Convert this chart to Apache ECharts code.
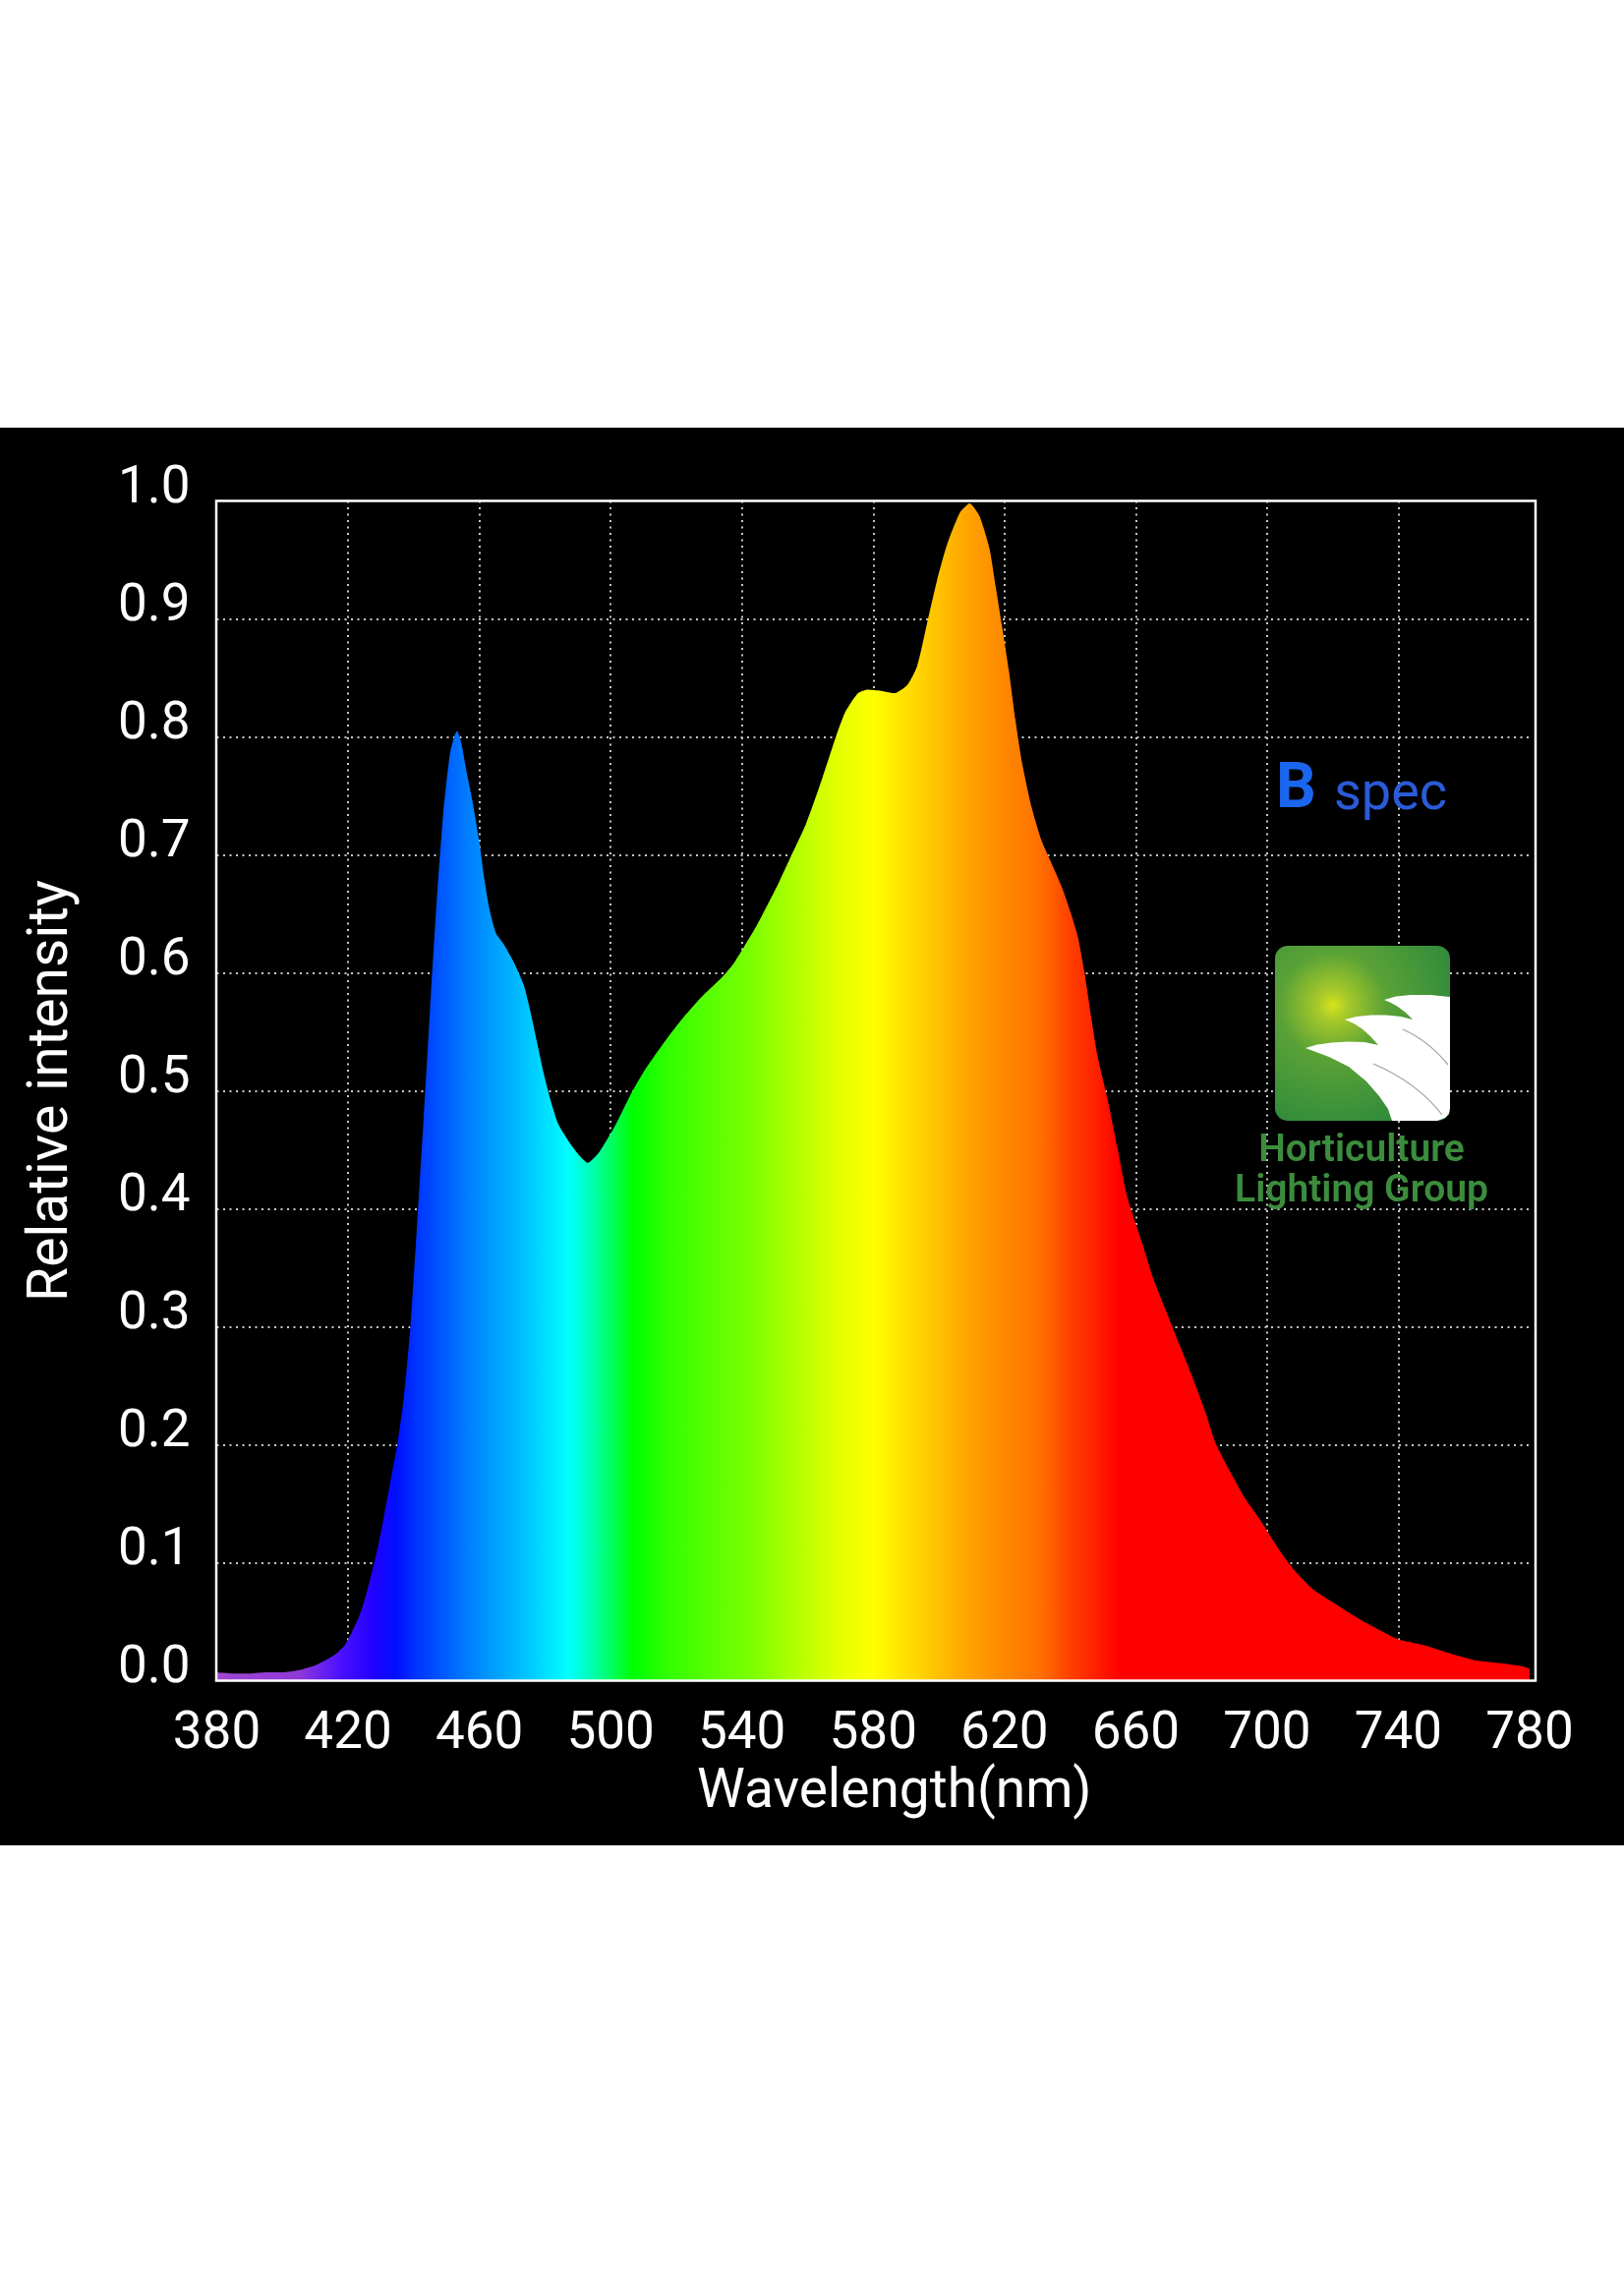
<!DOCTYPE html>
<html>
<head>
<meta charset="utf-8">
<script src="https://cdn.jsdelivr.net/npm/echarts@6/dist/echarts.min.js"></script>
<style>
html,body{margin:0;padding:0;background:#fff;}
#bg{position:absolute;left:0;top:435px;width:1652px;height:1442px;background:#000;}
#chart{position:absolute;left:0;top:0;width:1652px;height:2313px;}
</style>
</head>
<body>
<div id="bg"></div>
<div id="chart"></div>
<script>
// ---- data ----
const wavelengths = [380,385,390,395,400,405,410,
  413,416,419,421,423,425,427,429,431,433,435,437,439,
  441,443,445,447,449,451,452.3,453.2,454.5,456,458,460,
  461.5,463,465,467.5,470.5,473.5,475.5,477.5,479.5,481.5,484,487.5,490.5,493,496.5,
  501.5,506.5,510.5,515.5,521.5,527.5,533.5,537.5,541.5,544.5,547.5,551,554.5,559.5,564.5,568.5,
  571.5,575.4,578.4,582.4,586.4,590.4,593.4,596.4,599.4,602.4,606.4,609.4,612.4,615.4,617.4,619.3,
  621.3,623.3,625.3,628.3,631.3,634.3,637.3,640.3,642.4,644.4,646.4,648.4,651.4,654.4,657.4,660.3,
  662.3,665.3,669.3,673.3,677.3,681.3,684.2,688.2,693.2,698.2,703.2,708.2,714.2,720.2,728.2,736.2,
  740,748,756,764,772,778,780];
const intensities = [0.007,0.006,0.006,0.007,0.007,0.009,0.013,
  0.017,0.022,0.030,0.040,0.052,0.068,0.089,0.112,0.140,0.170,0.200,0.240,0.30,
  0.385,0.475,0.57,0.66,0.735,0.785,0.80,0.805,0.795,0.772,0.744,0.711,
  0.680,0.655,0.634,0.624,0.609,0.590,0.568,0.542,0.516,0.494,0.472,0.456,0.445,0.439,0.448,
  0.471,0.499,0.518,0.538,0.560,0.579,0.595,0.608,0.626,0.640,0.656,0.675,0.696,0.726,0.765,0.799,
  0.821,0.837,0.840,0.839,0.837,0.844,0.860,0.896,0.932,0.962,0.990,0.998,0.987,0.960,0.926,0.893,
  0.857,0.815,0.779,0.740,0.712,0.693,0.674,0.650,0.630,0.600,0.563,0.529,0.493,0.452,0.410,0.385,
  0.368,0.341,0.313,0.285,0.257,0.227,0.202,0.180,0.155,0.135,0.113,0.094,0.077,0.066,0.052,0.040,
  0.035,0.030,0.023,0.017,0.0145,0.012,0.010];
const xTickValues = [380,420,460,500,540,580,620,660,700,740,780];
const yTickLabels = ['0.0','0.1','0.2','0.3','0.4','0.5','0.6','0.7','0.8','0.9','1.0'];
// wavelength -> displayed colour (for the fill gradient)
const spectrumWl = [380,405,418,428,435,440,447,457,467,477,487,493,499,507,517,530,542,556,568,580,595,610,620,631,640,648,655,780];
const spectrumCol = ['#a048d0','#9038d8','#4a10ff','#2000ff','#0010ff','#0030ff','#0050ff','#0080ff','#00a8ff','#00d0ff','#00ffff','#00ffc0','#00ff70','#00ff00','#30ff00','#58ff00','#78ff00','#b0ff00','#e0ff00','#ffff00','#ffd000','#ffa000','#ff8800','#ff7000','#ff4000','#ff2000','#ff0000','#ff0000'];

const xMin = xTickValues[0], xMax = xTickValues[xTickValues.length-1];
const xStep = xTickValues[1]-xTickValues[0];
const seriesData = wavelengths.map((w,i)=>[w,intensities[i]]);
const stops = spectrumWl.map((w,i)=>({offset:(w-xMin)/(xMax-xMin), color:spectrumCol[i]}));

const chart = echarts.init(document.getElementById('chart'), null, {renderer:'canvas'});
const gridLine = {color:'#c8c8c8', width:2, type:[2,4.5]};
const FONT = 'Roboto';

// logo leaf outline (decoration)
const leafPts = [[1408,1017],[1420,1013.5],[1435,1012],[1455,1012],[1475,1014],
  [1475,1127],[1474,1133],[1470,1137],[1462,1140],[1416,1140],
  [1412,1128],[1403,1115],[1390,1100],[1372,1085],[1352,1075],[1328,1066],
  [1340,1062.5],[1355,1060.5],[1372,1059.5],[1388,1060],[1402,1063],
  [1394,1054],[1385,1046],[1377,1041],[1368,1037],
  [1380,1034],[1395,1032.5],[1410,1032.5],[1425,1034],[1437,1037],
  [1430,1030],[1422,1024],[1415,1020]];

const option = {
  animation:false,
  backgroundColor:'transparent',
  grid:{left:220.5, top:509.5, width:1335.5, height:1200, show:false, containLabel:false},
  xAxis:{
    type:'value', min:xMin, max:xMax, interval:xStep,
    axisLine:{show:false}, axisTick:{show:false},
    axisLabel:{color:'#fff', fontSize:53, fontFamily:FONT, margin:29},
    splitLine:{show:true, showMinLine:false, showMaxLine:false, lineStyle:gridLine},
    name:'Wavelength(nm)', nameLocation:'middle', nameGap:74,
    nameTextStyle:{color:'#fff', fontSize:55, fontFamily:FONT, padding:[0,0,0,43]}
  },
  yAxis:{
    type:'value', min:0, max:1, interval:0.1,
    axisLine:{show:false}, axisTick:{show:false},
    axisLabel:{color:'#fff', fontSize:53, fontFamily:FONT, margin:27, verticalAlign:'bottom', lineHeight:24,
      formatter:(v)=>yTickLabels[Math.round(v*10)]},
    splitLine:{show:true, showMinLine:false, showMaxLine:false, lineStyle:gridLine},
    name:'Relative intensity', nameLocation:'middle', nameGap:138,
    nameTextStyle:{color:'#fff', fontSize:57, fontFamily:FONT}
  },
  series:[{
    type:'line', data:seriesData, showSymbol:false, smooth:0.2,
    lineStyle:{opacity:0, width:0},
    areaStyle:{opacity:1, color:new echarts.graphic.LinearGradient(0,0,1,0,stops)},
    z:3
  }],
  graphic:[
    {type:'rect', z:100, silent:true, shape:{x:220, y:509.5, width:1342, height:1200},
      style:{fill:null, stroke:'#ffffff', lineWidth:2.5}},
    {type:'text', z:100, style:{text:'B', x:1298, y:805, font:'bold 64px Roboto', fill:'#1a66ee', align:'left', verticalAlign:'middle'}},
    {type:'text', z:100, style:{text:'spec', x:1357, y:809, font:'54px Roboto', fill:'#2a5bd8', align:'left', verticalAlign:'middle'}},
    {type:'rect', z:100, shape:{x:1297, y:962, width:178, height:178, r:13},
      style:{fill:new echarts.graphic.RadialGradient(0.33,0.34,0.75,[
        {offset:0, color:'#d6e41c'},{offset:0.12, color:'#a6c82a'},{offset:0.4, color:'#5aa236'},{offset:1, color:'#2f8a3c'}])}},
    {type:'polygon', z:101, shape:{points:leafPts}, style:{fill:'#ffffff'}},
    {type:'bezierCurve', z:102, shape:{x1:1397,y1:1082,cpx1:1425,cpy1:1094,cpx2:1450,cpy2:1112,x2:1467,y2:1134}, style:{fill:null, stroke:'#9aa89a', lineWidth:1.2}},
    {type:'bezierCurve', z:102, shape:{x1:1427,y1:1047,cpx1:1445,cpy1:1055,cpx2:1460,cpy2:1067,x2:1473,y2:1083}, style:{fill:null, stroke:'#9aa89a', lineWidth:1.2}},
    {type:'text', z:100, style:{text:'Horticulture', x:1385, y:1171, font:'600 39px Roboto', fill:'#3c8c3e', align:'center', verticalAlign:'middle'}},
    {type:'text', z:100, style:{text:'Lighting Group', x:1385, y:1212, font:'600 39px Roboto', fill:'#3c8c3e', align:'center', verticalAlign:'middle'}}
  ]
};
chart.setOption(option);
</script>
</body>
</html>
